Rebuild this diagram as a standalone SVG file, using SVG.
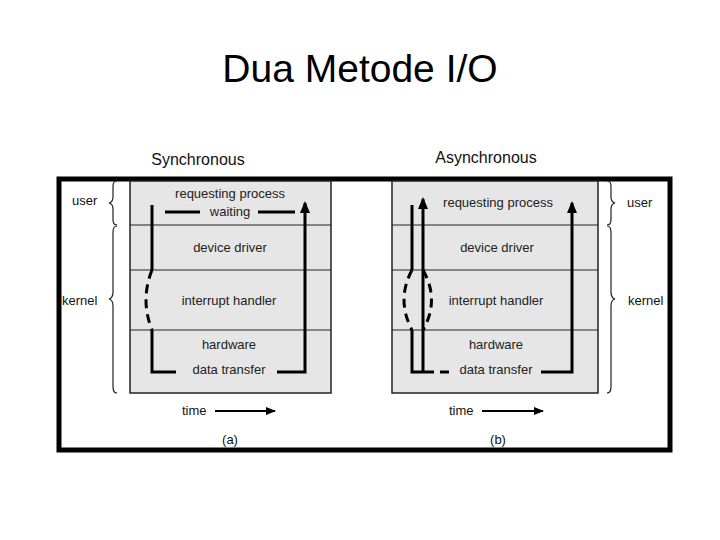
<svg xmlns="http://www.w3.org/2000/svg" width="720" height="540" viewBox="0 0 720 540">
<style>
text{font-family:"Liberation Sans",Arial,sans-serif;fill:#111}
.l{font-size:13px;text-anchor:middle;fill:#222}
.sm{font-size:13px}
.box{fill:#e6e6e6;stroke:#222;stroke-width:1.5}
.div{stroke:#222;stroke-width:1.2}
.th{stroke:#000;stroke-width:3;fill:none}
.da{stroke:#000;stroke-width:3;fill:none;stroke-dasharray:9,6}
.br{stroke:#222;stroke-width:1.2;fill:none}
</style>
<defs><marker id="ah" markerWidth="12" markerHeight="10" refX="10" refY="5" orient="auto" markerUnits="userSpaceOnUse" viewBox="0 0 12 10"><path d="M0,0 L12,5 L0,10z" fill="#000"/></marker>
<marker id="ar" markerWidth="10" markerHeight="8" refX="9" refY="4" orient="auto" markerUnits="userSpaceOnUse"><path d="M0,0 L10,4 L0,8z" fill="#000"/></marker></defs>
<text x="360" y="82" font-size="39" text-anchor="middle" style="fill:#000">Dua Metode I/O</text>
<text x="198" y="165" font-size="16" text-anchor="middle">Synchronous</text>
<text x="486" y="163" font-size="16" text-anchor="middle">Asynchronous</text>
<rect x="59" y="179" width="611" height="271" fill="#fff" stroke="#000" stroke-width="5"/>
<g id="panelA">
<rect class="box" x="130" y="181" width="201" height="212"/>
<line class="div" x1="130" y1="225" x2="331" y2="225"/><line class="div" x1="130" y1="270" x2="331" y2="270"/><line class="div" x1="130" y1="330" x2="331" y2="330"/>
<text class="l" x="230" y="198">requesting process</text>
<text class="l" x="230" y="216">waiting</text>
<text class="l" x="230" y="252">device driver</text>
<text class="l" x="229" y="305">interrupt handler</text>
<text class="l" x="229" y="349">hardware</text>
<text class="l" x="229" y="374">data transfer</text>
<text class="sm" x="72" y="205">user</text>
<text class="sm" x="62" y="305">kernel</text>
<path class="br" d="M117,181 Q113,181 113,186 L113,197 Q113,202 109,203 Q113,204 113,209 L113,220 Q113,225 117,225"/>
<path class="br" d="M117,226 Q113,226 113,232 L113,292 Q113,298 109,299 Q113,300 113,306 L113,387 Q113,393 117,393"/>
<text class="sm" x="182" y="415">time</text>
<line x1="215" y1="411" x2="275" y2="411" stroke="#000" stroke-width="2" marker-end="url(#ar)"/>
<text x="230" y="444" font-size="13" text-anchor="middle" font-family="Liberation Serif">(a)</text>
</g>
<g id="panelB">
<rect class="box" x="392" y="181" width="206" height="212"/>
<line class="div" x1="392" y1="225" x2="598" y2="225"/><line class="div" x1="392" y1="270" x2="598" y2="270"/><line class="div" x1="392" y1="330" x2="598" y2="330"/>
<text class="l" x="498" y="207">requesting process</text>
<text class="l" x="497" y="252">device driver</text>
<text class="l" x="496" y="305">interrupt handler</text>
<text class="l" x="496" y="349">hardware</text>
<text class="l" x="496" y="374">data transfer</text>
<text class="sm" x="627" y="207">user</text>
<text class="sm" x="628" y="305">kernel</text>
<path class="br" d="M607,181 Q611,181 611,186 L611,197 Q611,202 615,203 Q611,204 611,209 L611,220 Q611,225 607,225"/>
<path class="br" d="M607,226 Q611,226 611,232 L611,292 Q611,298 615,299 Q611,300 611,306 L611,387 Q611,393 607,393"/>
<text class="sm" x="449" y="415">time</text>
<line x1="482" y1="411" x2="543" y2="411" stroke="#000" stroke-width="2" marker-end="url(#ar)"/>
<text x="498" y="444" font-size="13" text-anchor="middle" font-family="Liberation Serif">(b)</text>
</g>
<g id="connectors">
<path class="th" d="M152,205 L152,270"/>
<path class="da" d="M152,270 Q140,300 152,330"/>
<path class="th" d="M152,330 L152,372 L176,372"/>
<path class="th" d="M277,372 L305,372 L305,203" marker-end="url(#ah)"/>
<line class="th" x1="165" y1="212" x2="200" y2="212" stroke-width="2"/>
<line class="th" x1="258" y1="212" x2="295" y2="212" stroke-width="2"/>
<path class="th" d="M412,205 L412,270" stroke-width="2.5"/>
<path class="th" d="M423,372 L423,199" marker-end="url(#ah)"/>
<path class="da" d="M412,270 Q396,300 412,330 M423,270 Q440,300 423,330"/>
<path class="th" d="M412,330 L412,372 L425,372" stroke-width="2.5"/>
<path class="da" d="M425,372 L452,372"/>
<path class="th" d="M541,372 L572,372 L572,203" marker-end="url(#ah)"/>
</g>
</svg>
